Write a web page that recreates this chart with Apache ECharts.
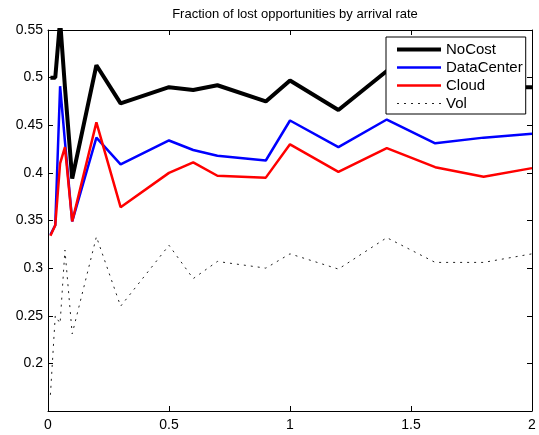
<!DOCTYPE html>
<html>
<head>
<meta charset="utf-8">
<script src="https://cdn.jsdelivr.net/npm/echarts@6/dist/echarts.min.js"></script>
<style>
html, body { margin: 0; padding: 0; background: #fff; }
#chart { width: 539px; height: 435px; }
</style>
</head>
<body>
<div id="chart"></div>
<script>
// arrival rates on the x axis
var rates = [0.01, 0.03, 0.05, 0.07, 0.1, 0.2, 0.3, 0.5, 0.6, 0.7, 0.9, 1.0, 1.2, 1.4, 1.6, 1.8, 2.0];

var noCost     = [0.500, 0.500, 0.560, 0.490, 0.394, 0.513, 0.473, 0.490, 0.487, 0.492, 0.475, 0.497, 0.466, 0.507, 0.490, 0.490, 0.490];
var dataCenter = [0.335, 0.345, 0.491, 0.433, 0.349, 0.437, 0.409, 0.434, 0.424, 0.418, 0.413, 0.455, 0.427, 0.456, 0.431, 0.437, 0.441];
var cloud      = [0.334, 0.345, 0.410, 0.427, 0.349, 0.453, 0.364, 0.400, 0.411, 0.397, 0.395, 0.430, 0.401, 0.426, 0.406, 0.396, 0.405];
var vol        = [0.167, 0.250, 0.242, 0.319, 0.231, 0.333, 0.260, 0.324, 0.289, 0.307, 0.300, 0.315, 0.299, 0.332, 0.306, 0.306, 0.315];

var seriesNames = ['NoCost', 'DataCenter', 'Cloud', 'Vol'];

var font = 'Liberation Sans, Arial, Helvetica, sans-serif';

// line look per series: colour, width, dash
var looks = {
  NoCost:     { color: '#000000', width: 4, type: 'solid' },
  DataCenter: { color: '#0000ff', width: 2.5, type: 'solid' },
  Cloud:      { color: '#ff0000', width: 2.5, type: 'solid' },
  Vol:        { color: '#222222', width: 1, type: [2, 5] }
};

function pairs(ys) {
  return rates.map(function (x, i) { return [x, ys[i]]; });
}

function lineSeries(name, ys) {
  var lk = looks[name];
  return {
    name: name,
    type: 'line',
    data: pairs(ys),
    symbol: 'none',
    clip: true,
    lineStyle: { color: lk.color, width: lk.width, type: lk.type },
    itemStyle: { color: lk.color },
    emphasis: { disabled: true }
  };
}

var axisCommon = {
  axisLine: { show: true, onZero: false, lineStyle: { color: '#000', width: 1 } },
  axisTick: { show: true, inside: true, length: 5, lineStyle: { color: '#000' } },
  splitLine: { show: false }
};

var chart = echarts.init(document.getElementById('chart'));
chart.setOption({
  animation: false,
  backgroundColor: '#fff',
  title: {
    text: 'Fraction of lost opportunities by arrival rate',
    left: 290,
    top: 3,
    textAlign: 'center',
    textStyle: { fontFamily: font, fontSize: 13, fontWeight: 'normal', color: '#000' }
  },
  legend: {
    data: seriesNames.map(function (n) {
      return { name: n, lineStyle: { width: looks[n].width, type: looks[n].type, color: looks[n].color } };
    }),
    orient: 'vertical',
    left: 386,
    top: 37,
    padding: [5, 3, 3, 9],
    itemWidth: 44,
    itemHeight: 14,
    itemGap: 3,
    selectedMode: false,
    itemStyle: { opacity: 0 },
    backgroundColor: '#fff',
    borderColor: '#000',
    borderWidth: 1,
    borderRadius: 0,
    textStyle: { fontFamily: font, fontSize: 15, color: '#000' }
  },
  grid: { left: 48, right: 7, top: 30, bottom: 24, containLabel: false },
  xAxis: [
    Object.assign({
      type: 'value', position: 'bottom', min: 0, max: 2, interval: 0.5,
      axisLabel: { margin: 7, color: '#000', fontFamily: font, fontSize: 14 }
    }, axisCommon),
    Object.assign({
      type: 'value', position: 'top', min: 0, max: 2, interval: 0.5,
      axisLabel: { show: false }
    }, axisCommon)
  ],
  yAxis: [
    Object.assign({
      type: 'value', position: 'left', min: 0.15, max: 0.55, interval: 0.05,
      axisLabel: {
        margin: 5, color: '#000', fontFamily: font, fontSize: 14,
        formatter: function (v) {
          if (Math.abs(v - 0.15) < 1e-9) return '';
          return String(+v.toFixed(2));
        }
      }
    }, axisCommon),
    Object.assign({
      type: 'value', position: 'right', min: 0.15, max: 0.55, interval: 0.05,
      axisLabel: { show: false }
    }, axisCommon)
  ],
  series: [
    lineSeries('NoCost', noCost),
    lineSeries('DataCenter', dataCenter),
    lineSeries('Cloud', cloud),
    lineSeries('Vol', vol)
  ]
});
</script>
</body>
</html>
